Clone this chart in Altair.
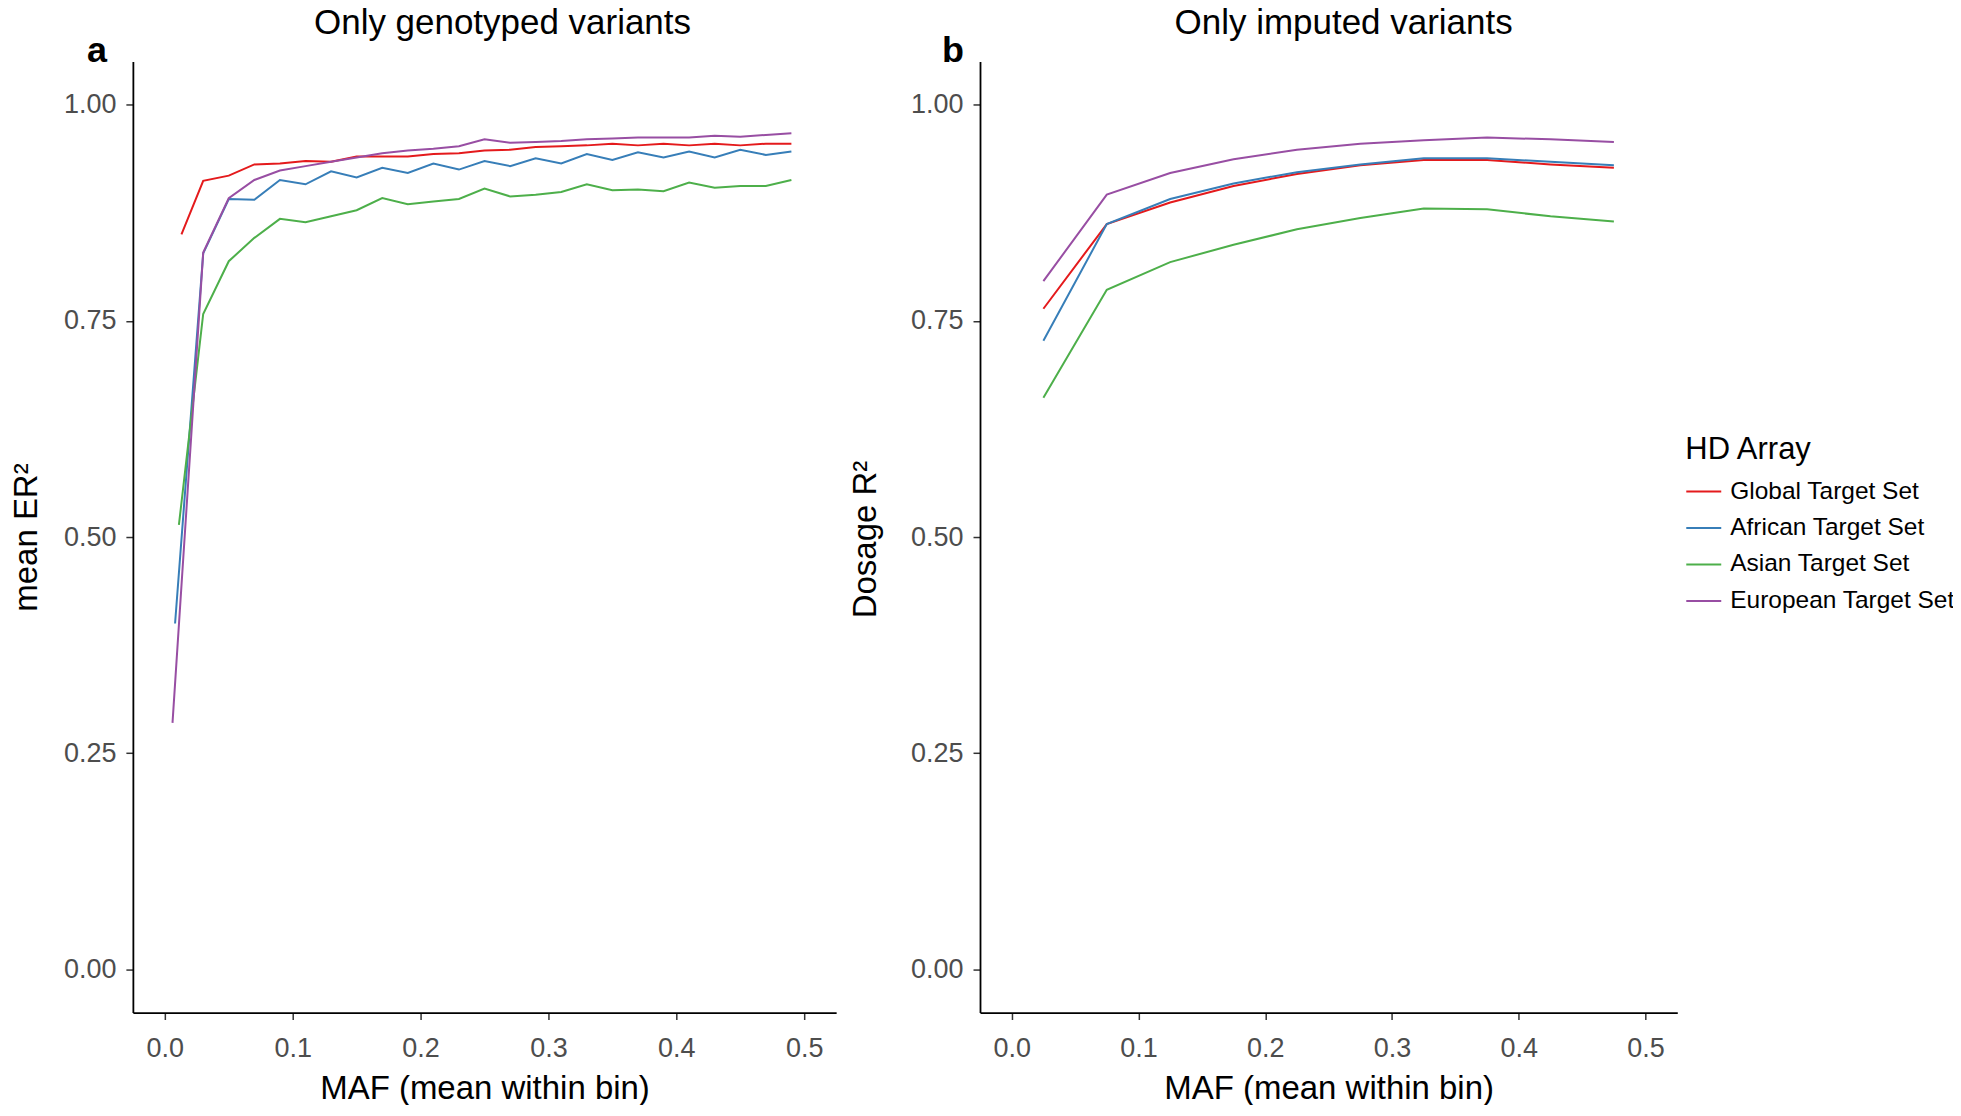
import altair as alt
import pandas as pd

series = ["Global Target Set", "African Target Set", "Asian Target Set", "European Target Set"]
colors = ["#E41A1C", "#377EB8", "#4DAF4A", "#984EA3"]

# Panel a: only genotyped variants (mean ER^2)
maf_bins_a = [0.03, 0.05, 0.07, 0.09, 0.11, 0.13, 0.15, 0.17, 0.19, 0.21, 0.23, 0.25,
              0.27, 0.29, 0.31, 0.33, 0.35, 0.37, 0.39, 0.41, 0.43, 0.45, 0.47, 0.49]
first_maf_a = [0.013, 0.008, 0.011, 0.006]
er2_global = [0.850, 0.912, 0.918, 0.931, 0.932, 0.935, 0.934, 0.940, 0.940, 0.940, 0.943, 0.944, 0.947,
              0.948, 0.951, 0.952, 0.953, 0.955, 0.953, 0.955, 0.953, 0.955, 0.953, 0.955, 0.955]
er2_african = [0.400, 0.828, 0.891, 0.890, 0.913, 0.908, 0.923, 0.916, 0.927, 0.921, 0.932, 0.925, 0.935,
               0.929, 0.938, 0.932, 0.943, 0.936, 0.945, 0.939, 0.946, 0.939, 0.948, 0.942, 0.946]
er2_asian = [0.514, 0.758, 0.819, 0.846, 0.868, 0.864, 0.871, 0.878, 0.892, 0.885, 0.888, 0.891, 0.903,
             0.894, 0.896, 0.899, 0.908, 0.901, 0.902, 0.900, 0.910, 0.904, 0.906, 0.906, 0.913]
er2_european = [0.285, 0.829, 0.892, 0.913, 0.924, 0.929, 0.934, 0.939, 0.944, 0.947, 0.949, 0.952, 0.960,
                0.956, 0.957, 0.958, 0.960, 0.961, 0.962, 0.962, 0.962, 0.964, 0.963, 0.965, 0.967]

# Panel b: only imputed variants (dosage R^2)
maf_b = [0.025, 0.075, 0.125, 0.175, 0.225, 0.275, 0.325, 0.375, 0.425, 0.475]
r2_global = [0.764, 0.862, 0.887, 0.906, 0.920, 0.930, 0.936, 0.936, 0.931, 0.927]
r2_african = [0.727, 0.862, 0.891, 0.909, 0.922, 0.931, 0.938, 0.938, 0.934, 0.930]
r2_asian = [0.661, 0.786, 0.818, 0.838, 0.856, 0.869, 0.880, 0.879, 0.871, 0.865]
r2_european = [0.796, 0.896, 0.921, 0.937, 0.948, 0.955, 0.959, 0.962, 0.960, 0.957]

x_ticks = [0.0, 0.1, 0.2, 0.3, 0.4, 0.5]
y_ticks = [0.0, 0.25, 0.5, 0.75, 1.0]

FONT = "Liberation Sans"

rows_a = []
for s, f, vals in zip(series, first_maf_a, [er2_global, er2_african, er2_asian, er2_european]):
    for x, v in zip([f] + maf_bins_a, vals):
        rows_a.append({"maf": x, "value": v, "set": s})
df_a = pd.DataFrame(rows_a)

rows_b = []
for s, vals in zip(series, [r2_global, r2_african, r2_asian, r2_european]):
    for x, v in zip(maf_b, vals):
        rows_b.append({"maf": x, "value": v, "set": s})
df_b = pd.DataFrame(rows_b)

legend = alt.Legend(
    title="HD Array", orient="none", legendX=1554, legendY=374,
    symbolType="stroke", symbolSize=1225, symbolStrokeWidth=2,
    labelFontSize=24.5, titleFontSize=31, titleFontWeight="normal",
    labelFont=FONT, titleFont=FONT, labelColor="black", titleColor="black",
    rowPadding=6.5, titlePadding=7, labelOffset=8, labelLimit=0,
)


def panel(df, ytitle, ytitle_x, ytitle_y, title, title_dx, label, label_dx, width):
    xs = alt.X("maf:Q", scale=alt.Scale(domain=[-0.025, 0.525], nice=False, zero=False),
               axis=alt.Axis(title="MAF (mean within bin)", values=x_ticks, format=".1f",
                             labelPadding=16,
                             titleX=width / 2, titleY=76, titleBaseline="middle"))
    ys = alt.Y("value:Q", scale=alt.Scale(domain=[-0.05, 1.05], nice=False, zero=False),
               axis=alt.Axis(title=ytitle, values=y_ticks, format=".2f", labelPadding=10,
                             titleX=ytitle_x, titleY=ytitle_y, titleBaseline="middle", titleAngle=270))
    layers = []
    for s in series:
        layers.append(
            alt.Chart(df).transform_filter(alt.datum.set == s).mark_line(strokeWidth=2).encode(
                x=xs, y=ys,
                color=alt.Color("set:N", scale=alt.Scale(domain=series, range=colors), legend=legend),
                order=alt.Order("maf:Q"),
            )
        )
    t = alt.Chart(pd.DataFrame({"t": [title]})).mark_text(
        font=FONT, fontSize=35, baseline="alphabetic", align="center", color="black"
    ).encode(text="t:N", x=alt.value(title_dx), y=alt.value(-28))
    lab = alt.Chart(pd.DataFrame({"t": [label]})).mark_text(
        font=FONT, fontSize=36, fontWeight="bold", baseline="middle", align="center", color="black"
    ).encode(text="t:N", x=alt.value(label_dx), y=alt.value(-11))
    return alt.layer(*layers, t, lab).properties(width=width, height=952)


pa = panel(df_a, "mean ER²", -106, 476, "Only genotyped variants", 370, "a", -36, 704)
pb = panel(df_b, "Dosage R²", -115, 478, "Only imputed variants", 364, "b", -27, 698)

chart = alt.hconcat(pa, pb, spacing=13).properties(
    padding={"left": 3, "top": -3, "right": -2, "bottom": -1}
).configure_view(stroke=None).configure_axis(
    grid=False, domainColor="black", domainWidth=1.8, tickColor="#333333", tickWidth=1.5,
    tickSize=7, labelFontSize=27, labelFont=FONT, labelColor="#4D4D4D",
    titleFontSize=33, titleFont=FONT, titleFontWeight="normal", titleColor="black",
)

chart.save("out.html", embed_options={"renderer": "svg", "actions": False})
